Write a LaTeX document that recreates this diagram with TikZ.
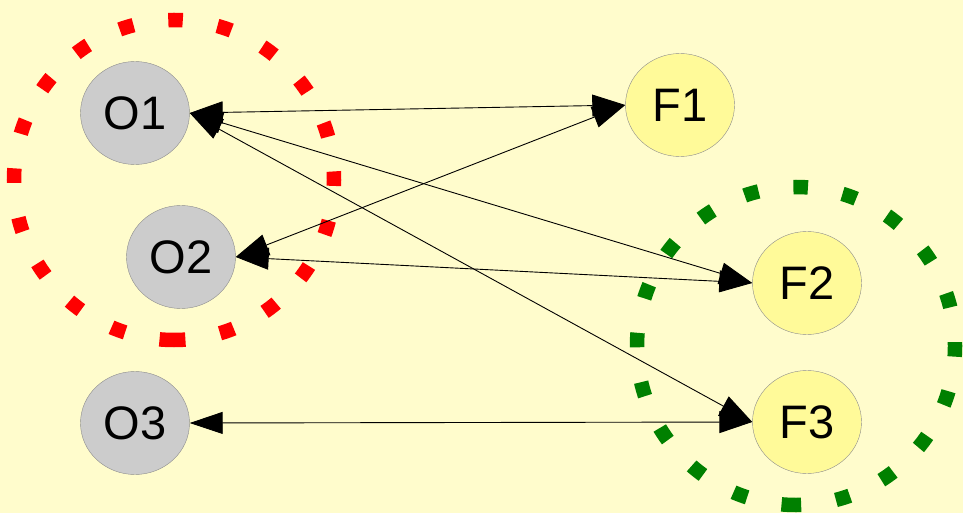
\documentclass[tikz,border=0pt]{standalone}
\usepackage{fontspec}
\setmainfont{Liberation Sans}
\usetikzlibrary{positioning,shapes.geometric,arrows.meta}

\begin{document}
\begin{tikzpicture}[x=1pt,y=-1pt,
  obj/.style={ellipse,draw=black!45,fill=black!20,minimum width=109pt,minimum height=103pt,inner sep=0pt,font=\fontsize{47}{50}\selectfont},
  fld/.style={obj,fill=yellow!40},
  link/.style={<->,>={Triangle[length=33pt,width=22pt]},line width=0.9pt},
  grp/.style={line width=14.5pt,dash pattern=on 14.5pt off 35.2pt}]
  \useasboundingbox (0,0) rectangle (963,513);
  \clip (0,0) rectangle (963,513);
  \fill[yellow!20] (0,0) rectangle (963,513);
  % groups
  \draw[grp,red] (174,340) arc (90:450:160);
  \draw[grp,green!50!black] (796,505) arc (90:450:159);
  % objects and features
  \node[obj] (o1) at (135,113) {O1};
  \node[obj] (o2) at (181,257) {O2};
  \node[obj] (o3) at (135,423) {O3};
  \node[fld] (f1) at (680,105) {F1};
  \node[fld] (f2) at (807,283) {F2};
  \node[fld] (f3) at (807,422) {F3};
  \path[link]
    (o1.east) edge (f1.west)
    (o1.east) edge (f2.west)
    (o1.east) edge (f3.west)
    (o2.east) edge (f1.west)
    (o2.east) edge (f2.west)
    (o3.east) edge (f3.west);
\end{tikzpicture}
\end{document}
